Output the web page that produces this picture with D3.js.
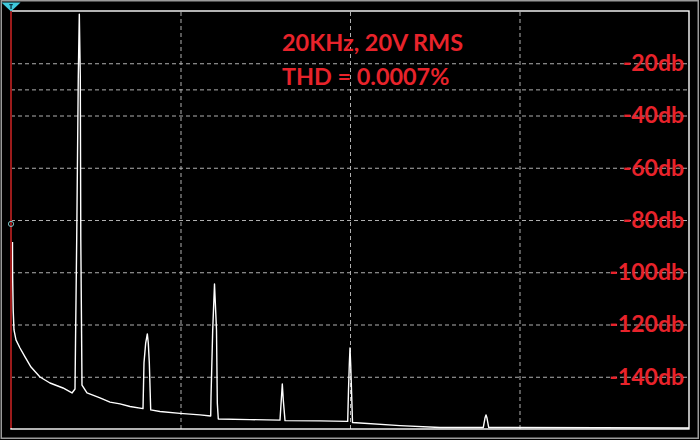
<!DOCTYPE html>
<html>
<head>
<meta charset="utf-8">
<script src="https://cdn.jsdelivr.net/npm/d3@7"></script>
<style>
  html, body { margin: 0; padding: 0; background: #000; }
  svg { display: block; }
</style>
</head>
<body>
<svg id="chart" width="700" height="440"></svg>
<script>
// ---- data ----
const freqKHz = [0.44,0.47,0.65,0.88,1.47,2.65,4.13,5.90,8.55,11.50,15.34,17.99,18.88,19.03,19.38,19.85,20.15,20.44,20.59,20.80,20.94,22.42,26.25,29.20,32.15,35.10,38.94,39.23,39.73,40.21,40.50,40.80,41.21,43.95,49.85,55.75,58.91,59.00,59.50,60.03,60.62,60.86,61.15,70.50,79.35,79.73,80.03,80.32,80.83,91.15,99.32,99.56,99.79,100.00,100.21,100.44,100.74,114.75,126.55,139.32,139.82,140.12,140.41,140.91,200.00];
const levelDb = [-88.4,-101.1,-114.5,-122.1,-125.9,-129.0,-132.4,-136.3,-140.1,-142.4,-144.3,-146.2,-144.7,-127.1,-87.7,-24.9,-1.2,-24.9,-87.7,-120.2,-143.2,-146.2,-148.1,-149.7,-150.4,-151.4,-152.2,-134.7,-127.1,-123.6,-127.1,-134.7,-152.7,-153.3,-154.0,-154.6,-155.0,-147.8,-122.1,-104.5,-122.1,-150.1,-156.2,-156.4,-156.6,-148.9,-142.8,-148.9,-156.8,-156.9,-157.1,-145.1,-135.5,-129.0,-135.5,-145.1,-157.5,-158.7,-159.4,-159.4,-155.8,-154.6,-155.8,-159.4,-159.6];
const dbTicks = [-20,-40,-60,-80,-100,-120,-140];
const dbGrid = [-20,-30,-40,-60,-80,-100,-120,-140];
const freqGrid = [50,100,150];
const freqDomain = [0,200];
const dbDomain = [0,-160];
const titleLines = ["20KHz, 20V RMS", "THD = 0.0007%"];
const tickSuffix = "db";

// ---- layout ----
const W = 700, H = 440;
const L = 11, R = 689, T = 11, B = 429;
const red = "#e8232b";

const svg = d3.select("#chart");
svg.append("rect").attr("width", W).attr("height", H).attr("fill", "#000");

// outer gray border
svg.append("rect").attr("x", 1.25).attr("y", 0.75).attr("width", 697).attr("height", 437.5)
  .attr("fill", "none").attr("stroke", "#9a9a9a").attr("stroke-width", 1.5);

const x = d3.scaleLinear().domain(freqDomain).range([L, R]);
const y = d3.scaleLinear().domain(dbDomain).range([T, B]);

// vertical grid
const gx = svg.append("g").attr("transform", `translate(0,${B})`)
  .call(d3.axisBottom(x).tickValues(freqGrid).tickSize(-(B - T)).tickFormat(""));
gx.select(".domain").remove();
gx.selectAll("line").attr("stroke", "#b0b0b0").attr("stroke-width", 1).attr("stroke-dasharray", "4,3");

// horizontal grid
const gy = svg.append("g").attr("transform", `translate(${L},0)`)
  .call(d3.axisLeft(y).tickValues(dbGrid).tickSize(-(R - L)).tickFormat(""));
gy.select(".domain").remove();
gy.selectAll("line").attr("stroke", "#b0b0b0").attr("stroke-width", 1).attr("stroke-dasharray", "4,3");

// trace
const pts = freqKHz.map((f, i) => [f, levelDb[i]]);
svg.append("path").datum(pts)
  .attr("d", d3.line().x(d => x(d[0])).y(d => y(d[1])))
  .attr("fill", "none").attr("stroke", "#fff").attr("stroke-width", 1.4).attr("stroke-linejoin", "round");

// frame
svg.append("rect").attr("x", L).attr("y", T).attr("width", R - L).attr("height", B - T)
  .attr("fill", "none").attr("stroke", "#fff").attr("stroke-width", 1.4);
svg.append("line").attr("x1", L).attr("x2", L).attr("y1", T).attr("y2", B - 1)
  .attr("stroke", "#9c1b1b").attr("stroke-width", 2);

// markers
svg.append("path").attr("d", "M1.5,2.5 L20.5,2.5 L11,11.5 Z").attr("fill", "#3fc9dc");
svg.append("path").attr("d", "M9.3,4 H12.8 V5.3 H11.7 V9 H10.4 V5.3 H9.3 Z").attr("fill", "#0b3442");
svg.append("circle").attr("cx", 11).attr("cy", y(-81.5)).attr("r", 2.6)
  .attr("fill", "none").attr("stroke", "#7fc4c4").attr("stroke-width", 1);

// dB labels
const ga = svg.append("g").attr("transform", `translate(684,0)`)
  .call(d3.axisLeft(y).tickValues(dbTicks).tickSize(0).tickPadding(0).tickFormat(d => d + tickSuffix));
ga.select(".domain").remove();
ga.selectAll("text").attr("fill", red).attr("font-family", "Lato, 'Open Sans', sans-serif")
  .attr("font-weight", "bold").attr("font-size", 23);

// title text
svg.append("g").selectAll("text").data(titleLines).join("text")
  .attr("x", 282).attr("y", (d, i) => 51 + i * 34)
  .attr("fill", red).attr("font-family", "Lato, 'Open Sans', sans-serif")
  .attr("font-weight", "bold").attr("font-size", 23.4)
  .text(d => d);
</script>
</body>
</html>
